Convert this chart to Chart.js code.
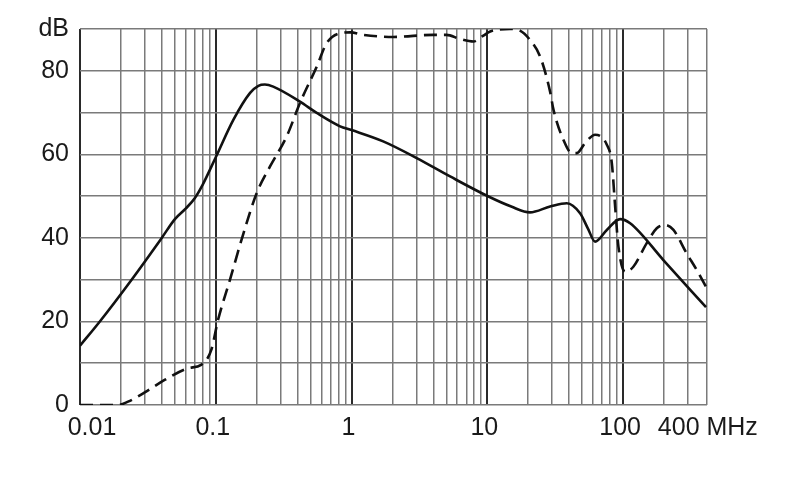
<!DOCTYPE html>
<html>
<head>
<meta charset="utf-8">
<script src="https://cdn.jsdelivr.net/npm/chart.js@4.4.1/dist/chart.umd.min.js"></script>
<style>
  html, body { margin: 0; padding: 0; background: #fff; }
  #wrap { width: 790px; height: 499px; position: relative; }
</style>
</head>
<body>
<div id="wrap"><canvas id="chart"></canvas></div>
<script>
// solid curve (MHz / dB)
const solidFreq = [0.01, 0.014, 0.024, 0.04, 0.05, 0.06, 0.07, 0.08, 0.1, 0.135, 0.179, 0.206, 0.23, 0.265, 0.417, 0.554, 0.823, 1.0, 1.71, 3.02, 5.32, 10.2, 15, 20.6, 29, 38.5, 48.2, 55, 62.2, 75.9, 95, 112.7, 198, 408];
const solidDb   = [14.2, 20, 30, 40, 44.5, 47, 49.5, 52.7, 59.3, 68.3, 74.7, 76.4, 76.7, 76.2, 72.6, 69.9, 66.7, 65.8, 63.1, 59.1, 54.7, 49.9, 47.5, 46.1, 47.5, 48.3, 45.9, 42.3, 39.1, 41.9, 44.5, 43.5, 34.7, 23.4];

// dashed curve (MHz / dB)
const dashFreq = [0.01, 0.019, 0.0226, 0.03, 0.042, 0.0625, 0.078, 0.0927, 0.104, 0.127, 0.16, 0.2, 0.251, 0.333, 0.417, 0.554, 0.656, 0.823, 0.98, 1.22, 2.03, 4.0, 5.0, 6.3, 7.9, 9.35, 10.5, 14.7, 17.4, 20.6, 24.5, 29, 30.7, 36.3, 41.9, 45.6, 52.5, 62.2, 75.9, 82.6, 87.4, 92.4, 103.5, 119, 149, 177, 204, 235, 294, 349, 408];
const dashDb   = [0, 0, 0.8, 3, 6, 8.8, 9.6, 13.2, 20.4, 29.9, 41.1, 50.7, 57.1, 64.3, 72.3, 81, 86.6, 89, 89.2, 88.6, 88.1, 88.6, 88.6, 87.6, 87, 88.4, 89.4, 90, 89.6, 87.4, 83.4, 75, 70.7, 63.5, 60.3, 60.3, 62.7, 64.7, 62.3, 57.9, 47.5, 37.9, 31.9, 33.1, 38.7, 42.3, 43.1, 41.9, 36.3, 32.3, 28.3];

// axes
const xMin = 0.01;
const xMax = 415;
const xGridValues = [];
[0.01, 0.1, 1, 10, 100].forEach(d => {
    for (let k = 1; k <= 9; k++) {
        const v = +(d * k).toPrecision(3);
        if (v <= 300) xGridValues.push(v);
    }
});
xGridValues.push(xMax);
const xLabelValues = [0.01, 0.1, 1, 10, 100, 400];
const xLabelTexts = ['0.01', '0.1', '1', '10', '100', '400 MHz'];
const yLabels = { 0: '0', 20: '20', 40: '40', 60: '60', 80: '80', 90: 'dB' };

const fontFamily = '"Liberation Sans", Arial, sans-serif';
const fontSize = 25;

function toPoints(xs, ys) {
    return xs.map((x, i) => ({ x: x, y: ys[i] }));
}

function isDecade(v) {
    const l = Math.log10(v);
    return Math.abs(l - Math.round(l)) < 1e-9;
}

const xLabelPlugin = {
    id: 'xLabels',
    afterDraw(chart) {
        const ctx = chart.ctx;
        const sc = chart.scales.x;
        const y = chart.chartArea.bottom + 23;
        ctx.save();
        ctx.font = fontSize + 'px ' + fontFamily;
        ctx.fillStyle = '#1a1a1a';
        ctx.textBaseline = 'middle';
        xLabelValues.forEach((v, i) => {
            const px = sc.getPixelForValue(v);
            if (i === 0) {
                ctx.textAlign = 'center';
                ctx.fillText(xLabelTexts[i], px + 12, y);
            } else if (i === xLabelValues.length - 1) {
                ctx.textAlign = 'left';
                ctx.fillText(xLabelTexts[i], px - 47, y);
            } else {
                ctx.textAlign = 'center';
                ctx.fillText(xLabelTexts[i], px - 3, y);
            }
        });
        ctx.restore();
    }
};

const ctx = document.getElementById('chart').getContext('2d');
const chart = new Chart(ctx, {
    type: 'line',
    data: {
        datasets: [{
            label: 'solid',
            data: toPoints(solidFreq, solidDb),
            borderColor: '#111',
            borderWidth: 2.6,
            pointRadius: 0,
            cubicInterpolationMode: 'monotone',
            fill: false
        }, {
            label: 'dashed',
            data: toPoints(dashFreq, dashDb),
            borderColor: '#111',
            borderWidth: 2.6,
            borderDash: [13, 7],
            pointRadius: 0,
            cubicInterpolationMode: 'monotone',
            fill: false
        }]
    },
    options: {
        responsive: true,
        maintainAspectRatio: false,
        animation: false,
        layout: {
            padding: { left: 0, right: 83, top: 29, bottom: 0 }
        },
        scales: {
            x: {
                type: 'logarithmic',
                min: xMin,
                max: xMax,
                afterBuildTicks(scale) {
                    scale.ticks = xGridValues.map(v => ({ value: v, major: isDecade(v) }));
                },
                afterFit(scale) { scale.height = 94; },
                ticks: { display: false },
                border: { display: false },
                grid: {
                    drawTicks: false,
                    color: (c) => (c.tick && c.tick.major ? '#2a2a2a' : '#7a7a7a'),
                    lineWidth: (c) => (c.tick && c.tick.major ? 2 : 1.5)
                }
            },
            y: {
                type: 'linear',
                min: 0,
                max: 90,
                afterFit(scale) { scale.width = 80; },
                ticks: {
                    stepSize: 10,
                    padding: 11,
                    color: '#1a1a1a',
                    font: { family: fontFamily, size: fontSize },
                    callback: (v) => (yLabels[v] !== undefined ? yLabels[v] : '')
                },
                border: { display: false },
                grid: {
                    drawTicks: false,
                    color: '#7a7a7a',
                    lineWidth: 1.5
                }
            }
        },
        plugins: {
            legend: { display: false },
            tooltip: { enabled: false }
        }
    },
    plugins: [xLabelPlugin]
});
</script>
</body>
</html>
